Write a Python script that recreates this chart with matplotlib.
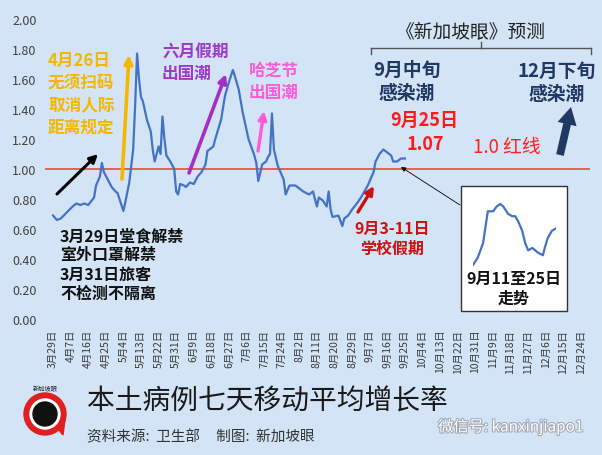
import matplotlib
matplotlib.use('Agg')
import matplotlib.pyplot as plt
import matplotlib.patches as mpatches
import matplotlib.patheffects as pe
import pandas as pd

plt.rcParams['font.family'] = ['Noto Sans CJK SC', 'DejaVu Sans']

W, H = 602, 456

# 7-day moving average growth rate (2022)
dates = ['03-29', '03-31', '04-02', '04-05', '04-08', '04-10', '04-12', '04-14',
         '04-16', '04-19', '04-20', '04-22', '04-23', '04-24', '04-26', '04-28',
         '04-30', '05-01', '05-02', '05-04', '05-05', '05-07', '05-08', '05-09',
         '05-10', '05-11', '05-12', '05-13', '05-14', '05-16', '05-18', '05-19',
         '05-20', '05-22', '05-23', '05-24', '05-25', '05-26', '05-28', '05-30',
         '05-31', '06-01', '06-02', '06-04', '06-05', '06-07', '06-09', '06-11',
         '06-13', '06-15', '06-16', '06-19', '06-20', '06-23', '06-25', '06-27',
         '06-29', '06-30', '07-02', '07-04', '07-07', '07-10', '07-11', '07-12',
         '07-14', '07-16', '07-17', '07-18', '07-19', '07-20', '07-22', '07-25',
         '07-26', '07-28', '07-31', '08-02', '08-04', '08-07', '08-09', '08-11',
         '08-12', '08-14', '08-16', '08-17', '08-18', '08-19', '08-22', '08-24',
         '08-25', '08-27', '08-29', '09-01', '09-03', '09-06', '09-09', '09-10',
         '09-12', '09-14', '09-16', '09-18', '09-19', '09-21', '09-23', '09-25']
rate = [0.69, 0.66, 0.67, 0.71, 0.75, 0.77, 0.76, 0.77,
        0.76, 0.81, 0.89, 0.95, 1.04, 0.98, 0.93, 0.88,
        0.85, 0.84, 0.80, 0.72, 0.78, 0.91, 1.02, 1.13,
        1.42, 1.77, 1.60, 1.48, 1.45, 1.33, 1.25, 1.13,
        1.05, 1.15, 1.10, 1.35, 1.20, 1.09, 1.05, 1.00,
        0.85, 0.83, 0.90, 0.89, 0.88, 0.91, 0.90, 0.95,
        0.98, 1.03, 1.12, 1.15, 1.20, 1.33, 1.49, 1.58,
        1.66, 1.62, 1.53, 1.38, 1.20, 1.09, 1.04, 0.92,
        1.03, 1.05, 1.08, 1.10, 1.37, 1.13, 1.02, 0.93,
        0.83, 0.89, 0.89, 0.87, 0.85, 0.83, 0.85, 0.75,
        0.81, 0.79, 0.75, 0.85, 0.73, 0.68, 0.69, 0.62,
        0.67, 0.69, 0.73, 0.78, 0.82, 0.89, 0.98, 1.05,
        1.10, 1.13, 1.11, 1.09, 1.05, 1.05, 1.07, 1.07]

tick_days = ['03-29', '04-07', '04-16', '04-25', '05-04', '05-13', '05-22', '05-31',
             '06-09', '06-18', '06-27', '07-06', '07-15', '07-24', '08-02', '08-11',
             '08-20', '08-29', '09-07', '09-16', '09-25', '10-04', '10-13', '10-22',
             '10-31', '11-09', '11-18', '11-27', '12-06', '12-15', '12-24']
y_ticks = [0.0, 0.2, 0.4, 0.6, 0.8, 1.0, 1.2, 1.4, 1.6, 1.8, 2.0]

# small inset: trend 9/11 - 9/25
inset_days = [0.0, 0.8, 1.7, 2.5, 3.0, 3.4, 4.0, 4.6, 5.1, 5.9, 6.6, 7.1,
              7.6, 8.3, 8.8, 9.3, 10.0, 10.5, 11.0, 11.8, 12.1, 12.6, 13.3, 14.0]
inset_rate = [0.88, 0.91, 0.97, 1.10, 1.10, 1.10, 1.12, 1.13, 1.12, 1.09, 1.08, 1.08,
              1.06, 1.02, 0.97, 0.94, 0.95, 0.94, 0.93, 0.92, 0.95, 0.99, 1.02, 1.03]


def box(x0, y0, x1, y1):
    # pixel box (origin top-left) -> figure rect
    return [x0 / W, 1 - y1 / H, (x1 - x0) / W, (y1 - y0) / H]


def p(x, y):
    return (x / W, 1 - y / H)


def arrow(a, b, color, lw, ms=12, style='-|>'):
    fig.add_artist(mpatches.FancyArrowPatch(p(*a), p(*b), transform=fig.transFigure,
                                            arrowstyle=style, mutation_scale=ms,
                                            lw=lw, color=color, shrinkA=0, shrinkB=0))


def note(x, y, s, **kw):
    kw.setdefault('ha', 'left')
    kw.setdefault('va', 'center')
    kw.setdefault('multialignment', kw['ha'])
    fig.text(*p(x, y), s, **kw)


bg = '#d2e4f6'
fig = plt.figure(figsize=(W / 100, H / 100), dpi=100)
fig.patch.set_facecolor(bg)

x = pd.to_datetime(['2022-' + d for d in dates])
ticks = pd.to_datetime(['2022-' + d for d in tick_days])
tick_labels = [f'{t.month}月{t.day}日' for t in ticks]

ax = fig.add_axes(box(45, 20, 590, 320))
ax.set_facecolor('none')
ax.plot(x, rate, color='#4472c4', lw=1.6, zorder=3)
ax.axhline(1.0, color='#f05050', lw=1.3, zorder=2)
ax.set_ylim(0, 2)
ax.set_xlim(x[0] - pd.Timedelta(days=4.1), x[0] + pd.Timedelta(days=274.7))
ax.set_yticks(y_ticks)
ax.set_yticklabels([f'{v:.2f}' for v in y_ticks], fontsize=9, color='#404040')
ax.set_xticks(ticks)
ax.set_xticklabels(tick_labels, rotation=90, fontsize=7.5, color='#3a3a3a', va='top')
ax.tick_params(length=0)
ax.tick_params(axis='x', pad=7)
ax.tick_params(axis='y', pad=6)
for s in ax.spines.values():
    s.set_visible(False)

# annotations
note(48, 94, '4月26日\n无须扫码\n取消人际\n距离规定', color='#f5b800',
     fontsize=12, fontweight='bold', linespacing=1.3)
arrow((122, 180), (129, 56), '#f5b800', 2.6)
arrow((57, 195), (98, 155), 'black', 2.2)

note(162, 63, '六月假期\n出国潮', color='#9b3bc8', fontsize=12,
     fontweight='bold', linespacing=1.3)
arrow((189, 174), (226, 75), '#a52fc6', 2.6)

note(249, 82, '哈芝节\n出国潮', color='#ff5ad8', fontsize=12,
     fontweight='bold', linespacing=1.3)
arrow((258, 152), (264, 112), '#ff5ad8', 2.4)

note(60, 265, '3月29日堂食解禁\n室外口罩解禁\n3月31日旅客\n不检测不隔离',
     color='#111111', fontsize=11.5, fontweight='bold', linespacing=1.25)

note(392, 239, '9月3-11日\n学校假期', color='#cc1111', fontsize=11.5,
     fontweight='bold', ha='center', linespacing=1.25)
arrow((358, 213), (374, 187), '#cc1111', 2.4)

# forecast header
note(470, 32, '《新加坡眼》预测', color='#222222', fontsize=13.5, ha='center')
bc = '#555555'
fig.add_artist(plt.Line2D([371 / W, 591 / W], [1 - 49 / H] * 2, color=bc, lw=1))
fig.add_artist(plt.Line2D([371 / W] * 2, [1 - 49 / H, 1 - 55 / H], color=bc, lw=1))
fig.add_artist(plt.Line2D([591 / W] * 2, [1 - 49 / H, 1 - 55 / H], color=bc, lw=1))
fig.add_artist(plt.Line2D([481 / W] * 2, [1 - 43 / H, 1 - 49 / H], color=bc, lw=1))

note(407, 82, '9月中旬\n感染潮', color='#1f3864', fontsize=13.5,
     fontweight='bold', ha='center', linespacing=1.3)
note(557, 83, '12月下旬\n感染潮', color='#1f3864', fontsize=13.5,
     fontweight='bold', ha='center', linespacing=1.3)
arrow((560, 156), (571, 108), '#1f3864', 0, ms=14,
      style='simple,head_width=1.0,head_length=0.9,tail_width=0.4')

note(424, 120, '9月25日', color='#ff1a1a', fontsize=13, fontweight='bold', ha='center')
note(425, 145, '1.07', color='#ff1a1a', fontsize=13, fontweight='bold', ha='center')
note(507, 148, '1.0 红线', color='#ff2020', fontsize=13.5, ha='center')

# inset box
fig.add_artist(mpatches.Rectangle(p(461, 312), 106 / W, 125 / H, transform=fig.transFigure,
                                  facecolor='white', edgecolor='#333333', lw=1, zorder=0.5))
arrow((460, 206), (401, 168), 'black', 0.6, ms=7)
axi = fig.add_axes(box(473, 200.1, 556, 270.9))
axi.set_zorder(2)
axi.plot(inset_days, inset_rate, color='#4472c4', lw=1.6)
axi.set_xlim(0, 14)
axi.set_ylim(0.86, 1.15)
axi.axis('off')
note(514, 289, '9月11至25日\n走势', color='#111111', fontsize=11.5,
     fontweight='bold', ha='center', linespacing=1.25)

# title and source
note(87, 402, '本土病例七天移动平均增长率', color='#1a1a1a', fontsize=20)
note(87, 437, '资料来源:  卫生部     制图:  新加坡眼', color='#333333', fontsize=10.5)
note(583, 428, '微信号: kanxinjiapo1', color='white', fontsize=11, ha='right',
     path_effects=[pe.withStroke(linewidth=1.5, foreground='#a0aab4')])

# logo
axl = fig.add_axes(box(15, 380, 75, 445))
axl.set_xlim(0, 60)
axl.set_ylim(65, 0)
axl.set_aspect('equal')
axl.axis('off')
axl.add_patch(mpatches.Polygon([[38, 44], [48, 56], [50, 40]], color='#e02020'))
axl.add_patch(mpatches.Circle((30, 35), 21, color='#e02020'))
axl.add_patch(mpatches.Circle((30, 35), 15, color='white'))
axl.add_patch(mpatches.Circle((30, 35), 12, color='#111111'))
axl.text(30, 9, '新加坡眼', fontsize=4.5, ha='center', va='center', color='#222222')

fig.savefig('out.png', dpi=100, facecolor=bg)
